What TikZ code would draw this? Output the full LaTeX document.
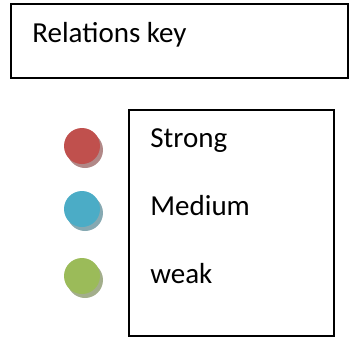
\documentclass[tikz,border=0pt]{standalone}
\usepackage{fontspec}
\setmainfont{Carlito}
\usepackage{tikz}
\usetikzlibrary{shadows, positioning}

\definecolor{strongred}{HTML}{C0504D}
\definecolor{mediumblue}{HTML}{4BACC6}
\definecolor{weakgreen}{HTML}{9BBB59}

\begin{document}
\begin{tikzpicture}[
    x=0.5pt, y=0.5pt,
    frame/.style={rectangle, draw=black, line width=1pt, inner sep=0pt},
    keytext/.style={font=\fontsize{14.5}{17}\selectfont, inner sep=0pt, anchor=base west},
    dot/.style={circle, fill=#1, minimum size=18pt, inner sep=0pt,
        drop shadow={shadow xshift=1.5pt, shadow yshift=-2pt, fill=#1!45!gray, opacity=0.8}},
]
\useasboundingbox (0,0) rectangle (349,-339);

% title box
\node[frame, minimum width=168.5pt, minimum height=37pt, anchor=north west] (KEYBOX) at (10,-3) {};
\node[keytext] (TITLE) at (32,-42) {Relations key};

% legend box
\node[frame, minimum width=102.5pt, minimum height=113pt, anchor=north west] (LEGEND) at (128,-109) {};
\node[keytext] (STRONG) at (150,-147) {Strong};
\node[keytext] (MEDIUM) at (150,-215) {Medium};
\node[keytext] (WEAK) at (150,-283) {weak};

% colour dots
\node[dot=strongred] (STRONGDOT) at (82,-146) {};
\node[dot=mediumblue] (MEDIUMDOT) at (82,-209) {};
\node[dot=weakgreen] (WEAKDOT) at (82,-276) {};
\end{tikzpicture}
\end{document}
